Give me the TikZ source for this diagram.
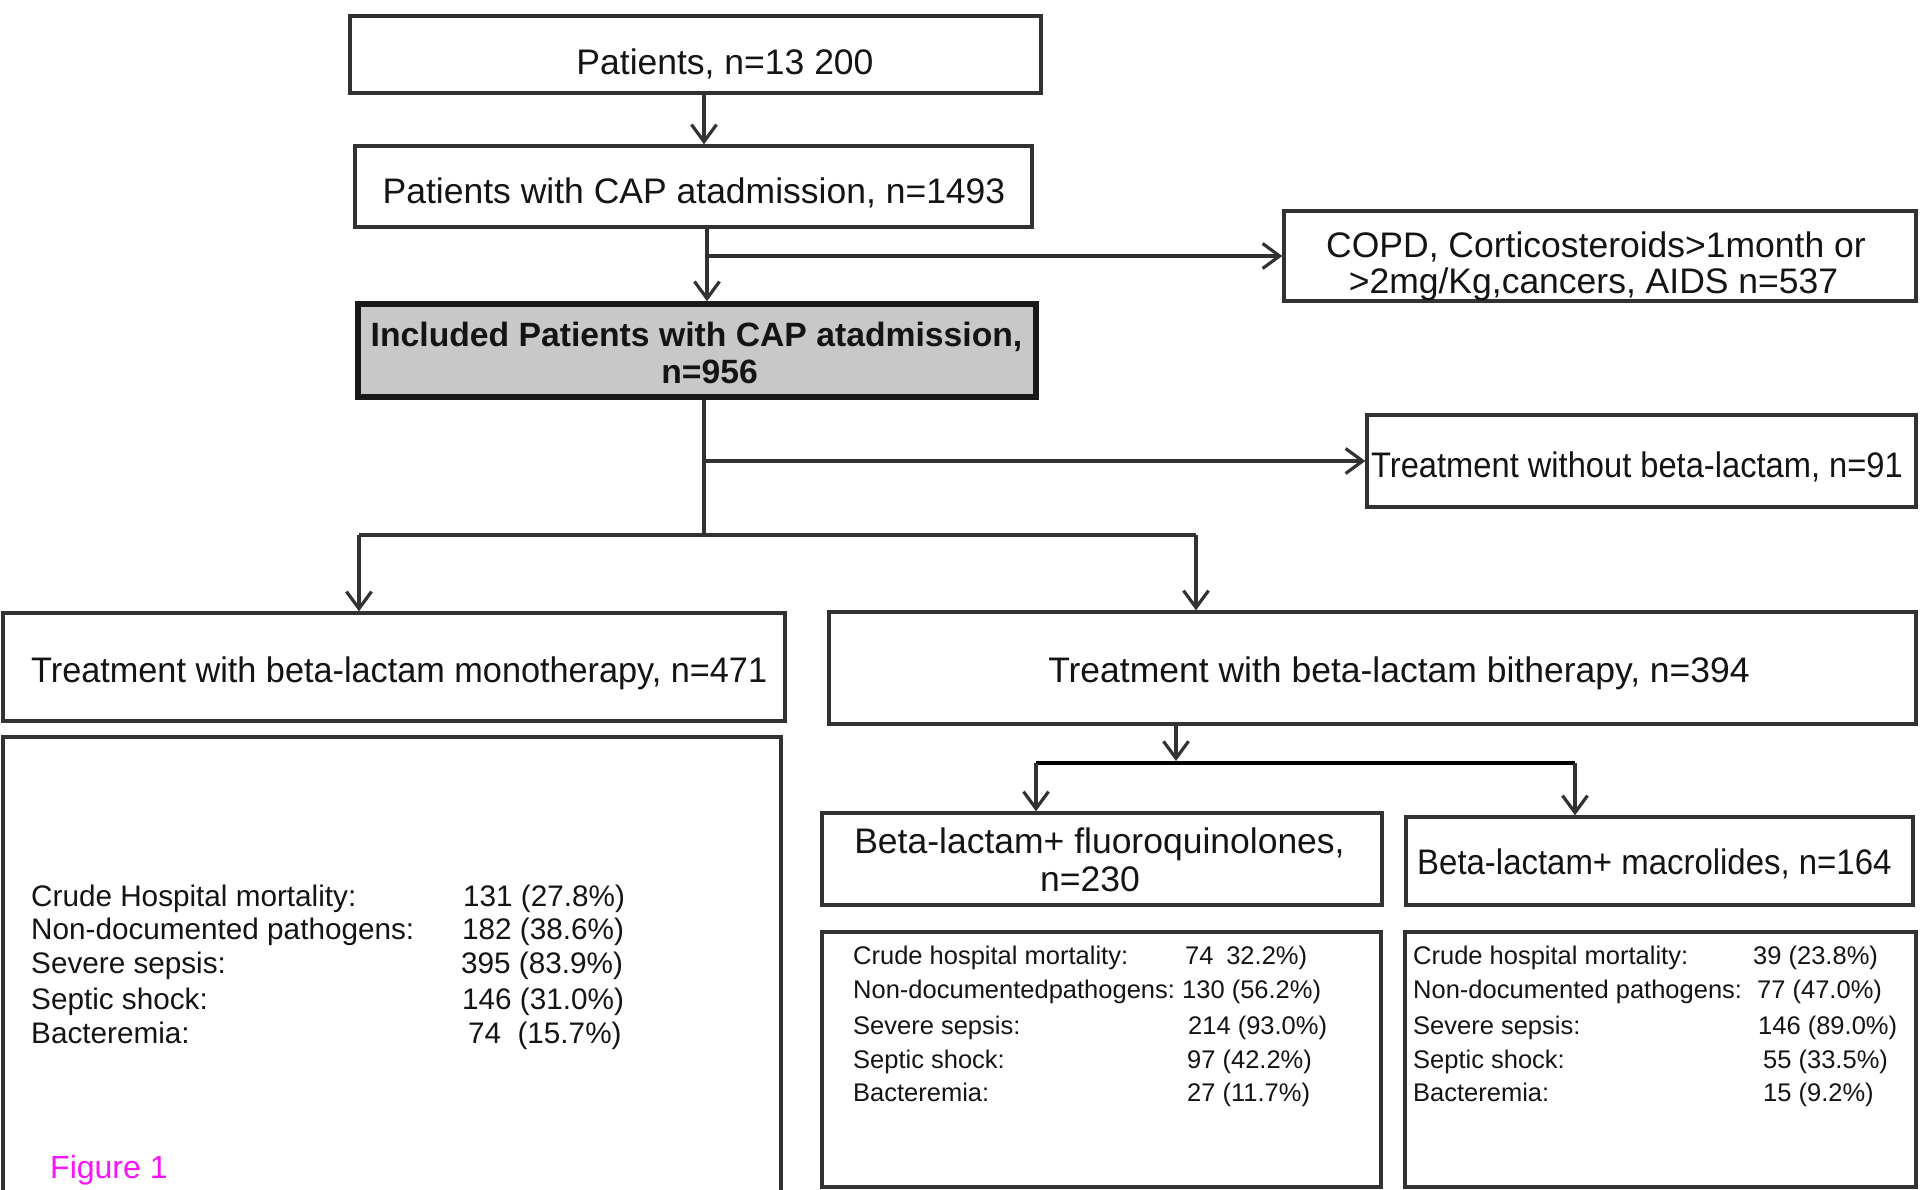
\documentclass[tikz,border=0pt]{standalone}
\usepackage{fontspec}
\usepackage{graphicx}
\setmainfont{Liberation Sans}
\usetikzlibrary{arrows.meta}
\definecolor{linec}{RGB}{50,50,50}
\definecolor{txtc}{RGB}{20,20,20}
\definecolor{boxgray}{RGB}{200,200,200}
\definecolor{figmag}{RGB}{250,20,250}
\begin{document}
\begin{tikzpicture}[x=1pt,y=-1pt,
  box/.style={draw=linec, line width=3.4pt, inner sep=0pt, fill=white},
  hdr/.style={font=\fontsize{35.5}{37}\selectfont, text=txtc, inner sep=0pt, anchor=base},
  hdrl/.style={hdr, anchor=base west},
  bhdr/.style={font=\fontsize{33.7}{36}\selectfont\bfseries, text=txtc, inner sep=0pt, anchor=base},
  statL/.style={font=\fontsize{29.7}{32}\selectfont, text=txtc, inner sep=0pt, anchor=base west},
  statR/.style={font=\fontsize{25.5}{28}\selectfont, text=txtc, inner sep=0pt, anchor=base west},
  conn/.style={draw=linec, line width=3.4pt},
  arr/.style={conn, -{Straight Barb[length=17pt,width=25pt,line width=3.2pt]}},
]
\useasboundingbox (0,0) rectangle (1920,1189);
\clip (0,0) rectangle (1920,1189);
\fill[white] (0,0) rectangle (1920,1189);

% boxes
\node[box, minimum width=691pt, minimum height=77pt] (b1) at (695.5,54.5) {};
\node[box, minimum width=677pt, minimum height=81pt] (b2) at (693.5,186.5) {};
\node[box, draw=black!90, line width=5.5pt, fill=boxgray, minimum width=678pt, minimum height=93pt] (b3) at (697,350.5) {};
\node[box, minimum width=632pt, minimum height=90pt] (copd) at (1600,256) {};
\node[box, minimum width=549pt, minimum height=92pt] (nobl) at (1641.5,461) {};
\node[box, minimum width=782pt, minimum height=108pt] (mono) at (394,667) {};
\node[box, minimum width=778pt, minimum height=463pt] (monos) at (392,968.5) {};
\node[box, minimum width=1087pt, minimum height=112pt] (bi) at (1372.5,668) {};
\node[box, minimum width=560pt, minimum height=92pt] (fq) at (1102,859) {};
\node[box, minimum width=507pt, minimum height=88pt] (mac) at (1659.5,861) {};
\node[box, minimum width=559pt, minimum height=255pt] (fqs) at (1101.5,1059.5) {};
\node[box, minimum width=511pt, minimum height=255pt] (macs) at (1660.5,1059.5) {};

% helper coordinates
\coordinate (xa) at (704,0);
\coordinate (xb) at (707,0);
\coordinate (split) at (704,535);
\coordinate (cL) at (359,535);
\coordinate (cR) at (1196,535);
\coordinate (xc) at (1176,0);
\coordinate (sL) at (1036,763);
\coordinate (sR) at (1575,763);
\coordinate (sM) at (1176,761);

% connectors
\draw[arr] (b1.south -| xa) -- (b2.north -| xa);
\draw[arr] (b2.south -| xb) -- (b3.north -| xb);
\draw[arr] (copd.west -| xb) -- (copd.west);
\draw[conn] (b3.south -| xa) -- (split);
\draw[arr] (nobl.west -| xa) -- (nobl.west);
\draw[conn] (cL) -- (cR);
\draw[arr] (cL) -- (mono.north -| cL);
\draw[arr] (cR) -- (bi.north -| cR);
\draw[arr] (bi.south -| xc) -- (sM);
\draw[conn, draw=black, line width=4.5pt] (sL) -- (sR);
\draw[arr] (sL) -- (fq.north -| sL);
\draw[arr] (sR) -- (mac.north -| sR);

% texts
\node[hdr] (t1) at (725,74) {Patients, n=13 200};
\node[hdr] (t2) at (694,203) {Patients with CAP atadmission, n=1493};
\node[bhdr] (t3a) at (696.5,346) {Included Patients with CAP atadmission,};
\node[bhdr] (t3b) at (709.5,383) {n=956};
\node[hdr] (tca) at (1596,257) {COPD, Corticosteroids>1month or};
\node[hdr] (tcb) at (1593.5,293) {>2mg/Kg,cancers, AIDS n=537};
\node[hdrl] (tnb) at (1371,477) {\scalebox{0.92}[1]{Treatment without beta-lactam, n=91}};
\node[hdrl] (tmo) at (31,682) {\scalebox{0.965}[1]{Treatment with beta-lactam monotherapy, n=471}};
\node[hdr] (tbi) at (1399,682) {Treatment with beta-lactam bitherapy, n=394};
\node[hdr] (tfqa) at (1099.5,853) {Beta-lactam+ fluoroquinolones,};
\node[hdr] (tfqb) at (1090,891) {n=230};
\node[hdrl] (tmac) at (1417,874) {\scalebox{0.928}[1]{Beta-lactam+ macrolides, n=164}};

% left stats
\node[statL] (l1) at (31,906) {Crude Hospital mortality:};
\node[statL] (l2) at (31,939) {Non-documented pathogens:};
\node[statL] (l3) at (31,973) {Severe sepsis:};
\node[statL] (l4) at (31,1009) {Septic shock:};
\node[statL] (l5) at (31,1043) {Bacteremia:};
\node[statL] (v1) at (463,906) {131 (27.8\%)};
\node[statL] (v2) at (462,939) {182 (38.6\%)};
\node[statL] (v3) at (461,973) {395 (83.9\%)};
\node[statL] (v4) at (462,1009) {146 (31.0\%)};
\node[statL] (v5) at (468,1043) {74\hspace{0.55em}(15.7\%)};

% fluoroquinolone stats
\node[statR] (f1) at (853,964) {Crude hospital mortality:};
\node[statR] (f2) at (853,998) {Non-documentedpathogens:};
\node[statR] (f3) at (853,1034) {Severe sepsis:};
\node[statR] (f4) at (853,1068) {Septic shock:};
\node[statR] (f5) at (853,1101) {Bacteremia:};
\node[statR] (fv1) at (1185,964) {74\hspace{0.5em}32.2\%)};
\node[statR] (fv2) at (1182,998) {130 (56.2\%)};
\node[statR] (fv3) at (1188,1034) {214 (93.0\%)};
\node[statR] (fv4) at (1187,1068) {97 (42.2\%)};
\node[statR] (fv5) at (1187,1101) {27 (11.7\%)};

% macrolide stats
\node[statR] (m1) at (1413,964) {Crude hospital mortality:};
\node[statR] (m2) at (1413,998) {Non-documented pathogens:};
\node[statR] (m3) at (1413,1034) {Severe sepsis:};
\node[statR] (m4) at (1413,1068) {Septic shock:};
\node[statR] (m5) at (1413,1101) {Bacteremia:};
\node[statR] (mv1) at (1753,964) {39 (23.8\%)};
\node[statR] (mv2) at (1757,998) {77 (47.0\%)};
\node[statR] (mv3) at (1758,1034) {146 (89.0\%)};
\node[statR] (mv4) at (1763,1068) {55 (33.5\%)};
\node[statR] (mv5) at (1763,1101) {15 (9.2\%)};

% figure label
\node[font=\fontsize{32}{34}\selectfont, text=figmag, inner sep=0pt, anchor=base west] (fig) at (50,1178) {Figure 1};
\end{tikzpicture}
\end{document}
